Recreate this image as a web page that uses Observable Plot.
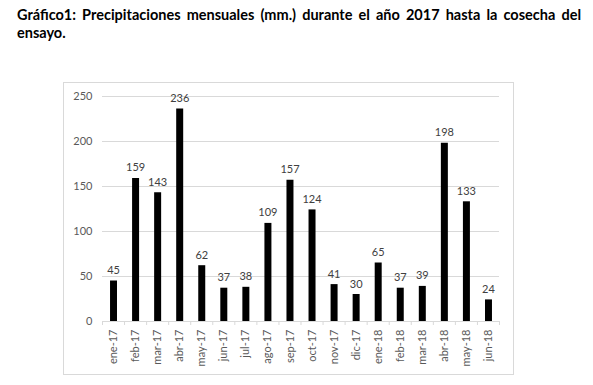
<!DOCTYPE html>
<html><head><meta charset="utf-8">
<script src="https://cdn.jsdelivr.net/npm/d3@7"></script>
<script src="https://cdn.jsdelivr.net/npm/@observablehq/plot@0.6"></script>
<style>
body{margin:0;background:#fff;width:593px;height:385px;position:relative;overflow:hidden}
#title{position:absolute;left:17px;top:6px;width:564px;font:bold 14.5px Lato;line-height:18px;color:#000}
#title .l1{text-align:justify;text-align-last:justify;white-space:nowrap}
#chart{position:absolute;left:63px;top:82px;width:449px;height:291px;border:1px solid #d9d9d9}
</style></head><body>
<div id="title"><div class="l1">Gráfico1: Precipitaciones mensuales (mm.) durante el año 2017 hasta la cosecha del</div><div>ensayo.</div></div>
<div id="chart"></div>
<script>
const months = ["ene-17","feb-17","mar-17","abr-17","may-17","jun-17","jul-17","ago-17","sep-17","oct-17","nov-17","dic-17","ene-18","feb-18","mar-18","abr-18","may-18","jun-18"];
const rainfall = [45,159,143,236,62,37,38,109,157,124,41,30,65,37,39,198,133,24];
const yTicks = [0,50,100,150,200,250];

const data = months.map((m, i) => ({i, month: m, value: rainfall[i]}));
const indices = d3.range(months.length);
const boundaries = d3.range(months.length + 1).map(i => i - 0.5);

const plot = Plot.plot({
  width: 449,
  height: 291,
  marginLeft: 38,
  marginRight: 14,
  marginTop: 13,
  marginBottom: 53,
  style: {fontFamily: "Lato", fontSize: "11px", color: "#595959", background: "#fff"},
  x: {type: "linear", domain: [-0.5, months.length - 0.5]},
  y: {domain: [0, 250]},
  marks: [
    Plot.gridY({ticks: yTicks, stroke: "#d9d9d9", strokeOpacity: 1}),
    Plot.axisY({ticks: yTicks, tickSize: 0, tickPadding: 10, label: null, fill: "#595959"}),
    Plot.axisX({ticks: boundaries, tickFormat: () => "", tickSize: 4, stroke: "#d9d9d9", label: null}),
    Plot.axisX({ticks: indices, tickFormat: i => months[i], tickSize: 0, tickPadding: 8, tickRotate: -90, label: null, fill: "#595959"}),
    Plot.ruleX(data, {x: "i", y1: 0, y2: "value", stroke: "#000", strokeWidth: 7}),
    Plot.text(data, {x: "i", y: "value", text: d => String(d.value), dy: -7, lineAnchor: "bottom", fill: "#404040"})
  ]
});
document.getElementById("chart").appendChild(plot);
</script>
</body></html>
